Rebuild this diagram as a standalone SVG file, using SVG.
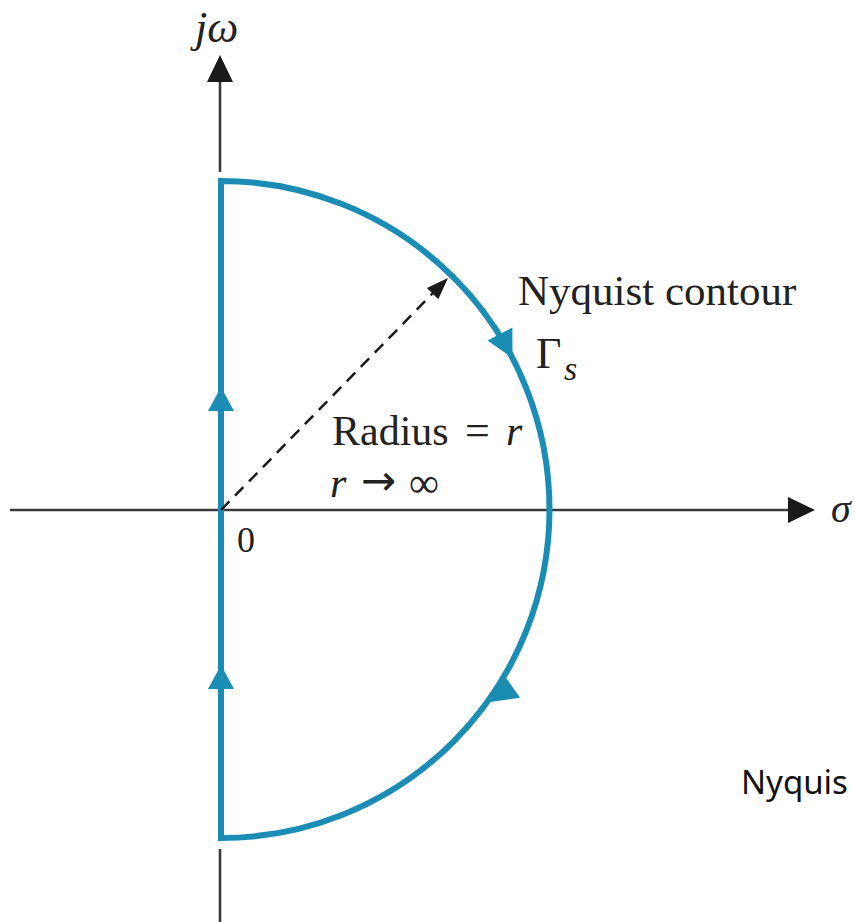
<svg xmlns="http://www.w3.org/2000/svg" width="855" height="922" viewBox="0 0 855 922">
<style>
.axis{stroke:#3a3a3a;stroke-width:2.6;fill:none}
.ah{fill:#1a1a1a}
.blue{stroke:#1b8cb4;stroke-width:6;fill:none;stroke-linejoin:miter}
.bah{fill:#1b8cb4}
.serif{font-family:"Liberation Serif","Times New Roman",serif;fill:#222}
.it{font-style:italic}
</style>
<rect width="855" height="922" fill="#ffffff"/>
<g id="axes">
<line class="axis" x1="220" y1="80" x2="220" y2="172"/>
<line class="axis" x1="220" y1="849" x2="220" y2="922"/>
<polygon class="ah" points="220,55 207,82 233,82"/>
<line class="axis" x1="10" y1="510" x2="790" y2="510"/>
<polygon class="ah" points="815,510 788,497 788,523"/>
</g>
<g id="contour">
<path class="blue" d="M221,181 A328.5,328.5 0 0 1 221,838 Z"/>
<polygon class="bah" points="0,0 -24,-13 -24,13" transform="translate(221,387) rotate(-90)"/>
<polygon class="bah" points="0,0 -24,-13 -24,13" transform="translate(221,665) rotate(-90)"/>
<polygon class="bah" points="0,0 -27,-14 -27,14" transform="translate(512.5,358) rotate(62.3)"/>
<polygon class="bah" points="0,0 -27,-14 -27,14" transform="translate(490,702) rotate(144.6)"/>
</g>
<g id="connectors">
<line x1="221" y1="510" x2="436" y2="290" stroke="#1a1a1a" stroke-width="2.5" stroke-dasharray="12 8"/>
<polygon class="ah" points="0,0 -22,-8 -22,8" transform="translate(448,278) rotate(-45.6)"/>
</g>
<g id="labels">
<text class="serif it" x="195" y="42" font-size="44">jω</text>
<text class="serif it" x="831" y="522" font-size="40">σ</text>
<text class="serif" x="237" y="552" font-size="36">0</text>
<text class="serif" x="518" y="305" font-size="43">Nyquist contour</text>
<text class="serif" x="536" y="368" font-size="44">Γ</text>
<text class="serif it" x="564" y="380" font-size="34">s</text>
<text class="serif" x="332" y="445" font-size="42">Radius</text>
<text class="serif" x="477.5" y="445" font-size="44" text-anchor="middle">=</text>
<text class="serif it" x="506" y="445" font-size="42">r</text>
<text class="serif it" x="330" y="497" font-size="42">r</text>
<text x="378.5" y="495" font-size="42" text-anchor="middle" font-family="'DejaVu Sans',sans-serif" fill="#222">→</text>
<text class="serif" x="424" y="497" font-size="42" text-anchor="middle">∞</text>
<text x="741" y="794" font-family="'Noto Sans','Open Sans',sans-serif" font-size="33" fill="#111">Nyquis</text>
</g>
</svg>
